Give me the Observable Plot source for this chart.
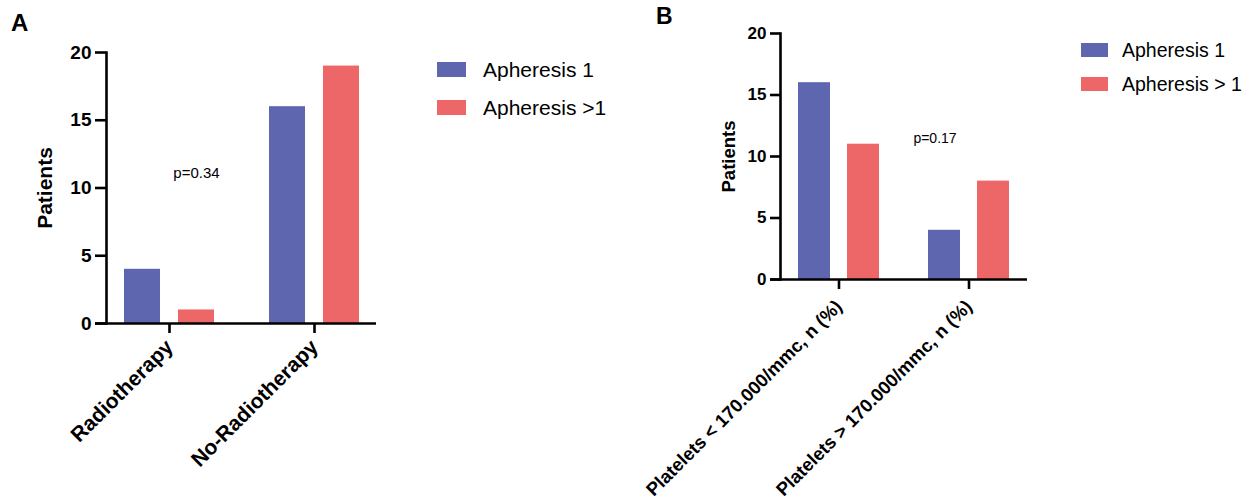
<!DOCTYPE html>
<html>
<head>
<meta charset="utf-8">
<script src="https://cdn.jsdelivr.net/npm/d3@7"></script>
<script src="https://cdn.jsdelivr.net/npm/@observablehq/plot@0.6"></script>
<style>
  html, body { margin: 0; padding: 0; background: #fff; }
  #page { position: relative; width: 1250px; height: 499px; overflow: hidden; background: #fff;
          font-family: 'Liberation Sans', Arial, Helvetica, sans-serif; color: #000; }
  .abs { position: absolute; }
  .panel-letter { position: absolute; font-weight: bold; line-height: 1; }
</style>
</head>
<body>
<div id="page"></div>
<script>
// ---------- data ----------
const seriesColors = ["#5D66AF", "#EE6768"];

const seriesA = ["Apheresis 1", "Apheresis >1"];
const categoriesA = ["Radiotherapy", "No-Radiotherapy"];
const apheresis1A = [4, 16];
const apheresisMoreA = [1, 19];
const pValueA = "p=0.34";

const seriesB = ["Apheresis 1", "Apheresis > 1"];
const categoriesB = ["Platelets < 170.000/mmc, n (%)", "Platelets > 170.000/mmc, n (%)"];
const apheresis1B = [16, 4];
const apheresisMoreB = [11, 8];
const pValueB = "p=0.17";

const yTicks = [0, 5, 10, 15, 20];
const yLabel = "Patients";
const panelLetters = ["A", "B"];

// ---------- helpers ----------
const FONT = "'Liberation Sans', Arial, Helvetica, sans-serif";
const page = document.getElementById("page");

function rows(cats, vals) { return cats.map((c, i) => ({cat: c, value: vals[i]})); }

function panel(cfg) {
  const chart = Plot.plot({
    width: cfg.width, height: cfg.height,
    marginLeft: cfg.mLeft, marginRight: cfg.mRight, marginTop: cfg.mTop, marginBottom: cfg.mBottom,
    style: {fontFamily: FONT, fontWeight: "bold", fontSize: cfg.labelFont + "px", color: "#000",
            background: "transparent", overflow: "visible"},
    x: {domain: cfg.cats, paddingInner: cfg.pi, paddingOuter: cfg.po},
    y: {domain: [0, 20]},
    marks: [
      Plot.barY(rows(cfg.cats, cfg.s1), {x: "cat", y: "value", fill: seriesColors[0], insetRight: cfg.inset}),
      Plot.barY(rows(cfg.cats, cfg.s2), {x: "cat", y: "value", fill: seriesColors[1], insetLeft: cfg.inset}),
      Plot.frame({anchor: "left", stroke: "#000", strokeWidth: 2.6}),
      Plot.ruleY([0], {stroke: "#000", strokeWidth: 2.6, insetLeft: -cfg.yTick}),
      Plot.axisY({ticks: yTicks, tickSize: cfg.yTick, tickPadding: 4, stroke: "#000", strokeWidth: 2.6,
                  fontSize: cfg.yFont, fontWeight: "bold", label: null}),
      Plot.axisY({ticks: [], tickSize: 0, fontSize: cfg.labelFont, fontWeight: "bold", label: yLabel,
                  labelAnchor: "center", labelArrow: "none", labelOffset: cfg.labelOffset}),
      Plot.axisX({tickSize: cfg.xTick, tickRotate: -45, tickPadding: cfg.xPad, stroke: "#000", strokeWidth: 2.6,
                  fontSize: cfg.xFont, fontWeight: "bold", label: null}),
      Plot.text([cfg.pText], {x: () => cfg.pCat, y: () => cfg.pY, dx: cfg.pDx, text: d => d,
                  fontSize: cfg.pFont, fontWeight: "normal", fill: "#000"})
    ]
  });
  chart.style.position = "absolute";
  chart.style.left = cfg.left + "px";
  chart.style.top = "0px";
  page.appendChild(chart);
}

function legend(names, x, y0, gap, sw, sh, textX, fontSize) {
  names.forEach((n, i) => {
    const sq = document.createElement("div");
    sq.className = "abs";
    sq.style.left = x + "px"; sq.style.top = (y0 + i * gap) + "px";
    sq.style.width = sw + "px"; sq.style.height = sh + "px";
    sq.style.background = seriesColors[i];
    page.appendChild(sq);
    const t = document.createElement("div");
    t.className = "abs";
    t.style.left = textX + "px"; t.style.top = (y0 + i * gap + sh / 2) + "px";
    t.style.transform = "translateY(-50%)";
    t.style.fontSize = fontSize + "px";
    t.style.whiteSpace = "nowrap";
    t.textContent = n;
    page.appendChild(t);
  });
}

function letter(txt, x, y, size) {
  const d = document.createElement("div");
  d.className = "panel-letter";
  d.style.left = x + "px"; d.style.top = y + "px"; d.style.fontSize = size + "px";
  d.textContent = txt;
  page.appendChild(d);
}

// ---------- panel A ----------
panel({
  left: 0, width: 430, height: 499, mLeft: 106, mRight: 54, mTop: 52, mBottom: 176,
  cats: categoriesA, s1: apheresis1A, s2: apheresisMoreA,
  pi: 0.38, po: 0.117, inset: 54, yTick: 11, xTick: 10, xPad: 10,
  yFont: 19, xFont: 21, labelFont: 21, labelOffset: 69,
  pText: pValueA, pCat: categoriesA[0], pY: 11.1, pDx: 27, pFont: 15
});
legend(seriesA, 437, 62, 38, 29, 15, 483, 21);
letter(panelLetters[0], 11, 11, 24);

// ---------- panel B ----------
panel({
  left: 600, width: 440, height: 499, mLeft: 180, mRight: 13, mTop: 33, mBottom: 220,
  cats: categoriesB, s1: apheresis1B, s2: apheresisMoreB,
  pi: 0.374, po: 0.13, inset: 49, yTick: 10, xTick: 10, xPad: 14,
  yFont: 17, xFont: 18.5, labelFont: 18.5, labelOffset: 59,
  pText: pValueB, pCat: categoriesB[1], pY: 11.46, pDx: -34, pFont: 14
});
legend(seriesB, 1081, 43, 34, 27, 14, 1122, 19.5);
letter(panelLetters[1], 656, 5, 23);
</script>
</body>
</html>
